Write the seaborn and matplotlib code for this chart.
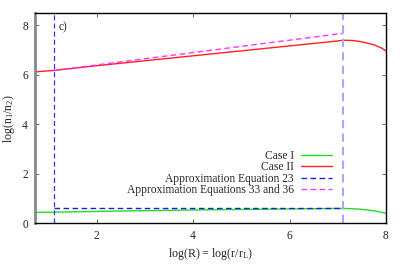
import numpy as np
import pandas as pd
import seaborn as sns
import matplotlib
matplotlib.use("Agg")
import matplotlib.pyplot as plt

# ---- data ----
x_case = [0.72, 1.12, 2.0, 3.0, 4.0, 5.0, 6.0, 6.5, 7.0, 7.11, 7.3, 7.46, 7.6, 7.77, 7.9, 8.0]
case1 = [0.44, 0.45, 0.48, 0.51, 0.54, 0.56, 0.58, 0.59, 0.60, 0.60, 0.59, 0.57, 0.54, 0.50, 0.45, 0.40]
case2 = [6.12, 6.18, 6.37, 6.57, 6.77, 6.97, 7.17, 7.27, 7.37, 7.40, 7.39, 7.35, 7.29, 7.20, 7.09, 6.97]

x_eq23 = [1.12, 7.11]
y_eq23 = [0.61, 0.61]
vlines_eq23 = [1.12, 7.11]

x_eq3336 = [1.12, 7.11]
y_eq3336 = [6.18, 7.68]

xticks = [2, 4, 6, 8]
yticks = [0, 2, 4, 6, 8]

sns.set_theme(style="ticks")
plt.rcParams["font.family"] = ["Liberation Serif", "DejaVu Serif"]
plt.rcParams["mathtext.fontset"] = "custom"
plt.rcParams["mathtext.rm"] = "Liberation Serif"
plt.rcParams["mathtext.it"] = "Liberation Serif:italic"

FS = 8.3

fig = plt.figure(figsize=(4.07, 2.71), dpi=100)
ax = fig.add_axes([35/407, 1-223.3/271, (386-35)/407, (223.3-13)/271])

df1 = pd.DataFrame({"x": x_case, "y": case1})
df2 = pd.DataFrame({"x": x_case, "y": case2})
sns.lineplot(data=df1, x="x", y="y", ax=ax, color="#22dd22", lw=1.0, label="Case I")
sns.lineplot(data=df2, x="x", y="y", ax=ax, color="#ff2020", lw=1.0, label="Case II")
ax.plot(x_eq23, y_eq23, color="#1a1aee", lw=1.0, ls=(0, (4, 2.5)), label="Approximation Equation 23")
ax.plot(x_eq3336, y_eq3336, color="#ff33ff", lw=1.0, ls=(0, (4, 2.5)), label="Approximation Equations 33 and 36")
ax.axvline(vlines_eq23[0], color="#3333ee", lw=0.9, ls=(0, (4, 2.5)))
ax.axvline(vlines_eq23[1], color="#a8a8ff", lw=1.5, ls=(0, (4, 2.5)))

ax.text(1.2, 7.93, "c)", fontsize=FS, va="center", ha="left")

ax.set_xlim(0.72, 8.0)
ax.set_ylim(0, 8.5)
ax.set_xticks(xticks)
ax.set_yticks(yticks)
ax.tick_params(direction="in", length=3, width=0.6, color="#555555", labelsize=FS,
               top=True, right=True, pad=5)
ax.set_xlabel(r"log(R) = log(r/r$_\mathrm{L}$)", fontsize=FS + 0.3, labelpad=3)
ax.set_ylabel(r"log(n$_1$/n$_2$)", fontsize=FS + 0.3, labelpad=4)
for s in ["top", "right", "bottom"]:
    ax.spines[s].set_color("black")
    ax.spines[s].set_linewidth(1.0)
ax.spines["left"].set_color("#888888")
ax.spines["left"].set_linewidth(2.0)

leg = ax.legend(loc="lower right", bbox_to_anchor=(332/407, 1-196/271), bbox_transform=fig.transFigure,
                frameon=False, markerfirst=False, fontsize=FS, handlelength=2.7,
                labelspacing=-0.05, handletextpad=0.6, borderpad=0, borderaxespad=0)

fig.savefig("out.png", dpi=100)
